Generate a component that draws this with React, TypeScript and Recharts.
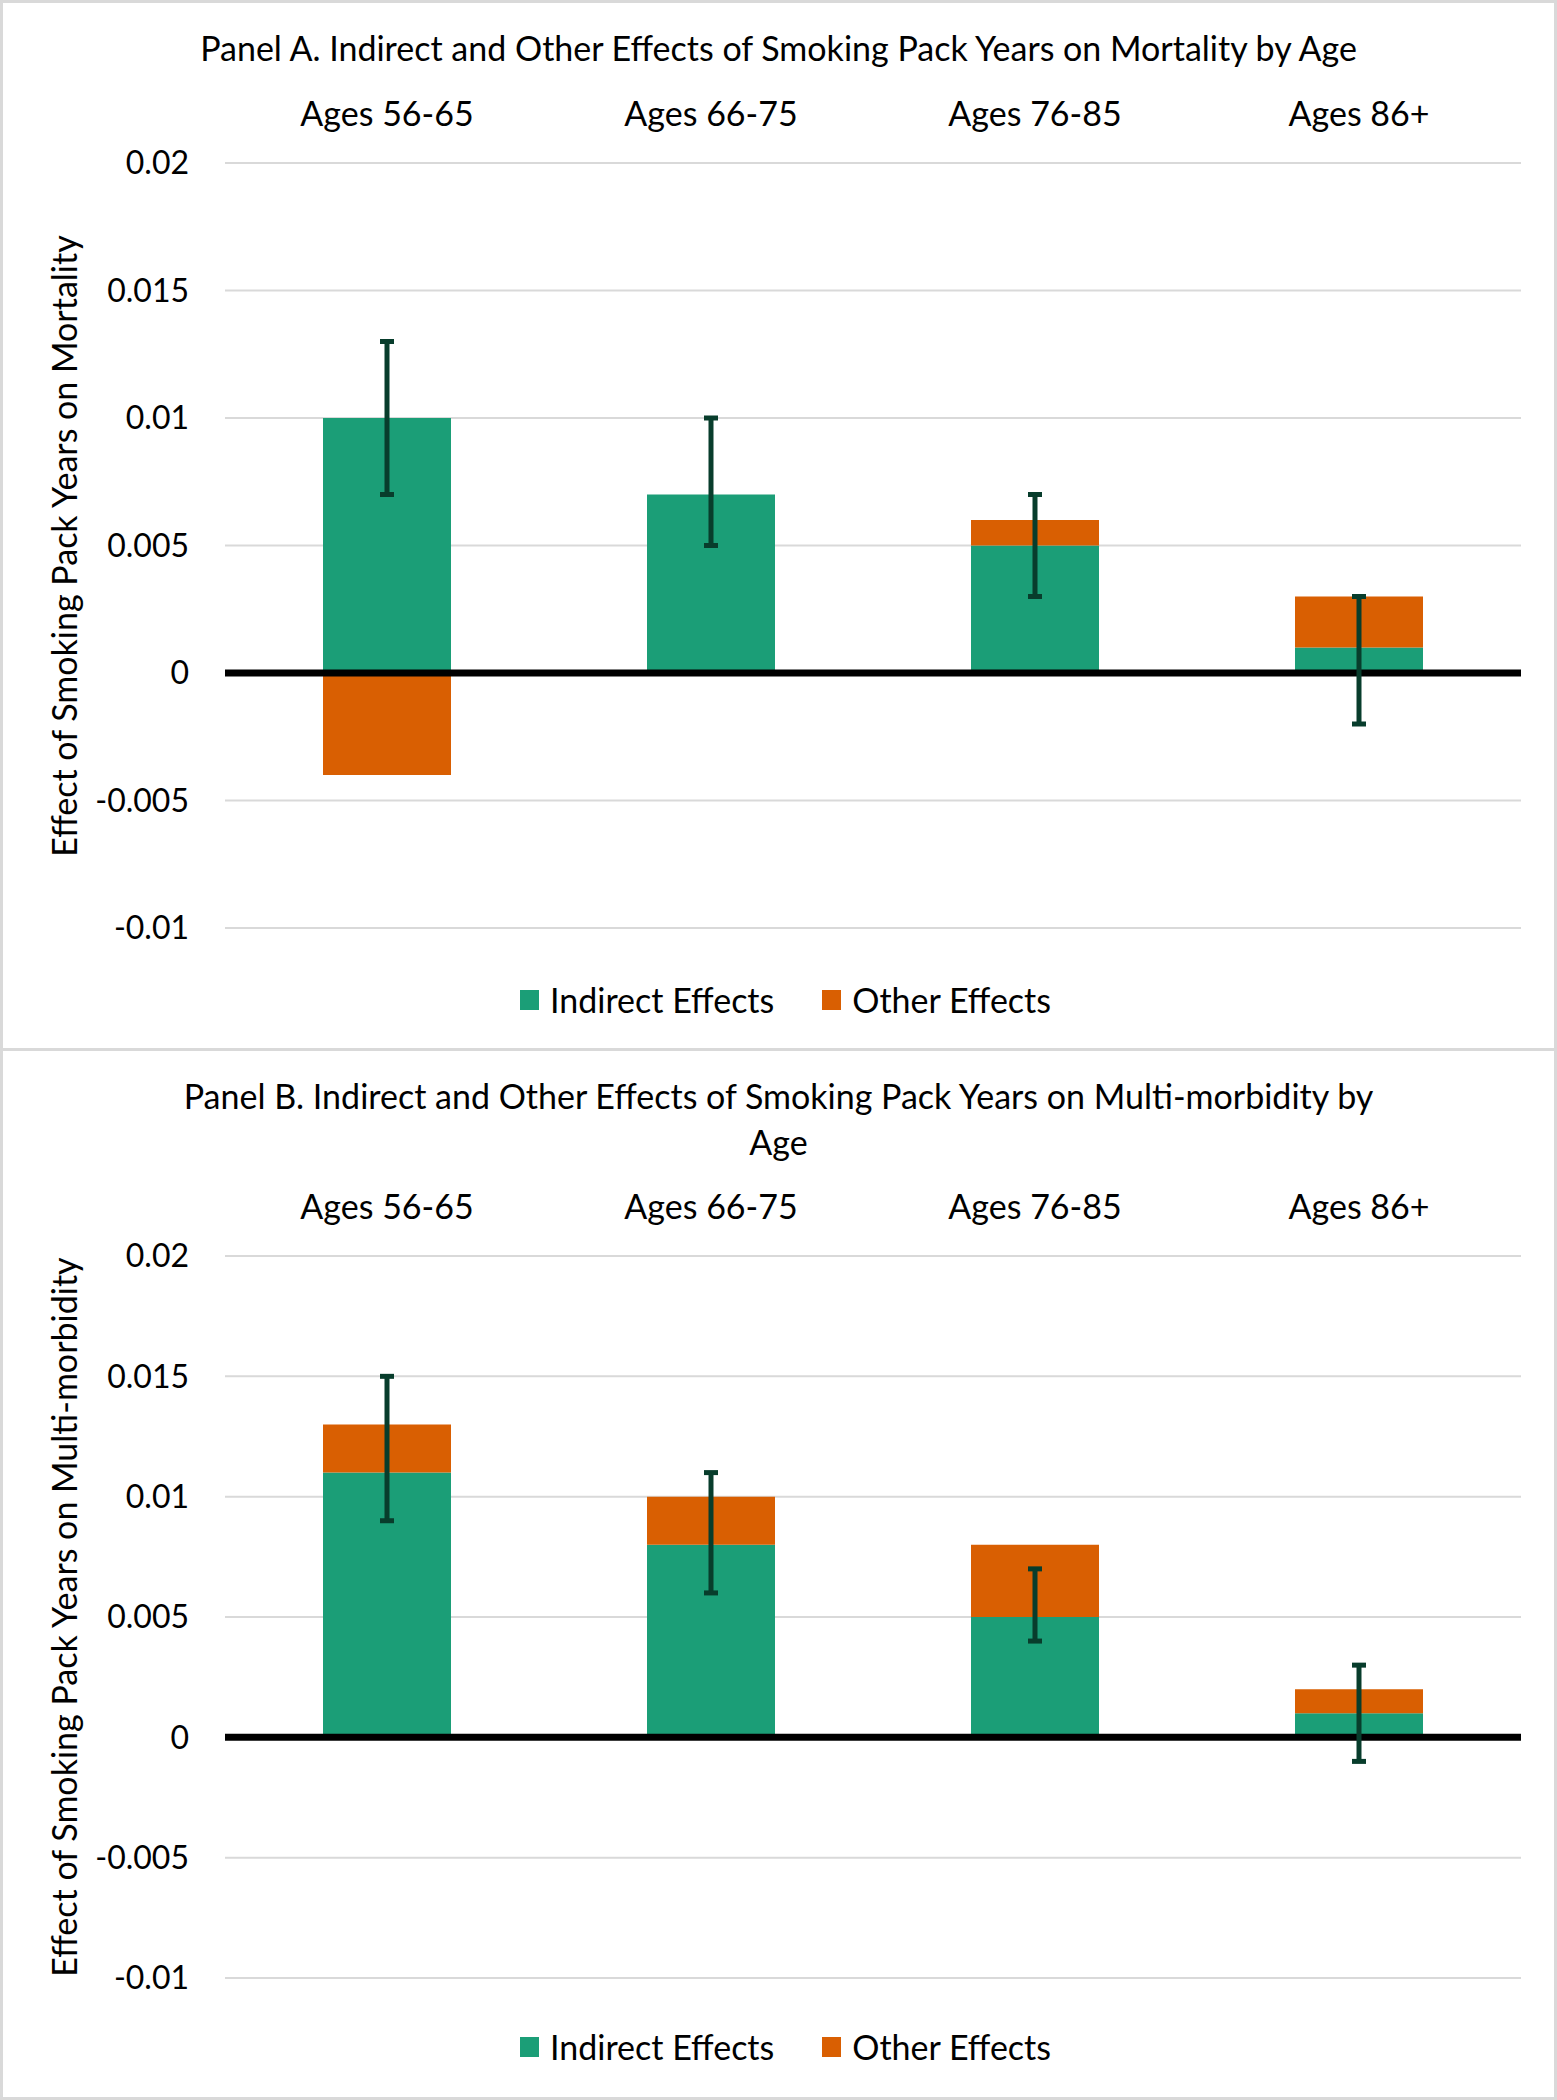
import React from 'react';
import { ComposedChart, Bar, Line, ErrorBar, XAxis, YAxis, CartesianGrid, ReferenceLine, Legend } from 'recharts';

const ageGroups = ['Ages 56-65', 'Ages 66-75', 'Ages 76-85', 'Ages 86+'];

// Panel A - mortality
const mortalityIndirect = [0.01, 0.007, 0.005, 0.001];
const mortalityOther = [-0.004, 0, 0.001, 0.002];
const mortalityLow = [0.007, 0.005, 0.003, -0.002];
const mortalityHigh = [0.013, 0.01, 0.007, 0.003];

// Panel B - multi-morbidity
const morbidityIndirect = [0.011, 0.008, 0.005, 0.001];
const morbidityOther = [0.002, 0.002, 0.003, 0.001];
const morbidityLow = [0.009, 0.006, 0.004, -0.001];
const morbidityHigh = [0.015, 0.011, 0.007, 0.003];

const yTicks = [-0.01, -0.005, 0, 0.005, 0.01, 0.015, 0.02];

const FONT = 'Lato, "Open Sans", sans-serif';
const TEXT_SIZE = 34;
const TICK_SIZE = 32;
const WIDTH = 1557;

const buildRows = (indirect: number[], other: number[], low: number[], high: number[]) =>
  ageGroups.map((age, i) => ({
    age,
    indirect: indirect[i],
    other: other[i],
    low: low[i],
    range: [0, high[i] - low[i]],
  }));

const renderLegend = (props: any) => {
  const items = (props.payload || []).filter((p: any) => p.type !== 'none');
  return (
    <div style={{ display: 'flex', justifyContent: 'center', gap: 48, paddingLeft: 14, fontFamily: FONT, fontSize: TEXT_SIZE, lineHeight: '30px', color: '#000' }}>
      {items.map((entry: any) => (
        <div key={entry.value} style={{ display: 'flex', alignItems: 'center' }}>
          <span style={{ display: 'inline-block', width: 19, height: 20, background: entry.color, marginRight: 11 }} />
          <span>{entry.value}</span>
        </div>
      ))}
    </div>
  );
};

interface PanelProps {
  top: number;
  height: number;
  titleLines: string[];
  yLabel: string;
  rows: any[];
  plotTop: number;
  plotBottom: number;
  legendTop: number;
}

const Panel: React.FC<PanelProps> = ({ top, height, titleLines, yLabel, rows, plotTop, plotBottom, legendTop }) => {
  const axisHeight = 60;
  return (
    <div style={{ position: 'absolute', left: 0, top, width: WIDTH, height, fontFamily: FONT, color: '#000' }}>
      <div style={{ position: 'absolute', left: 0, top: 0, width: WIDTH, height, boxSizing: 'border-box', border: '3px solid #d9d9d9' }} />
      <div style={{ position: 'absolute', left: 0, top: 25, width: WIDTH, textAlign: 'center', fontSize: TEXT_SIZE, lineHeight: '46px' }}>
        {titleLines.map((line) => (
          <div key={line}>{line}</div>
        ))}
      </div>
      <div
        style={{
          position: 'absolute',
          left: 63,
          top: (plotTop + plotBottom) / 2,
          transform: 'translate(-50%, -50%) rotate(-90deg)',
          whiteSpace: 'nowrap',
          fontSize: TEXT_SIZE,
        }}
      >
        {yLabel}
      </div>
      <div style={{ position: 'absolute', left: 0, top: 0 }}>
        <ComposedChart
          width={WIDTH}
          height={height}
          data={rows}
          stackOffset="sign"
          margin={{ top: plotTop - axisHeight, right: 36, bottom: height - plotBottom, left: 40 }}
        >
          <CartesianGrid vertical={false} stroke="#d9d9d9" strokeWidth={2} />
          <XAxis
            dataKey="age"
            orientation="top"
            axisLine={false}
            tickLine={false}
            tickSize={0}
            tickMargin={37}
            height={axisHeight}
            interval={0}
            tick={{ fill: '#000', fontSize: TEXT_SIZE, fontFamily: FONT }}
          />
          <YAxis
            type="number"
            domain={[-0.01, 0.02]}
            ticks={yTicks}
            allowDataOverflow
            width={185}
            axisLine={false}
            tickLine={false}
            tickSize={0}
            tickMargin={36}
            tickFormatter={(v: number) => String(v)}
            tick={{ fill: '#000', fontSize: TICK_SIZE, fontFamily: FONT }}
          />
          <Bar dataKey="indirect" name="Indirect Effects" stackId="a" fill="#1b9e77" barSize={128} isAnimationActive={false} />
          <Bar dataKey="other" name="Other Effects" stackId="a" fill="#d95f02" barSize={128} isAnimationActive={false} />
          <ReferenceLine y={0} stroke="#000" strokeWidth={7} />
          <Line
            dataKey="low"
            stroke="none"
            dot={false}
            activeDot={false}
            legendType="none"
            isAnimationActive={false}
          >
            <ErrorBar dataKey="range" direction="y" width={7} stroke="#083d2c" strokeWidth={5} />
          </Line>
          <Legend
            layout="horizontal"
            verticalAlign="middle"
            align="center"
            wrapperStyle={{ top: legendTop, left: 0, width: WIDTH }}
            content={renderLegend}
          />
        </ComposedChart>
      </div>
    </div>
  );
};

export default function App() {
  const mortalityRows = buildRows(mortalityIndirect, mortalityOther, mortalityLow, mortalityHigh);
  const morbidityRows = buildRows(morbidityIndirect, morbidityOther, morbidityLow, morbidityHigh);
  return (
    <div style={{ position: 'absolute', left: 0, top: 0, width: WIDTH, height: 2100, background: '#fff' }}>
      <Panel
        top={0}
        height={1051}
        titleLines={['Panel A. Indirect and Other Effects of Smoking Pack Years on Mortality by Age']}
        yLabel="Effect of Smoking Pack Years on Mortality"
        rows={mortalityRows}
        plotTop={163}
        plotBottom={928}
        legendTop={985}
      />
      <Panel
        top={1048}
        height={1052}
        titleLines={['Panel B. Indirect and Other Effects of Smoking Pack Years on Multi-morbidity by', 'Age']}
        yLabel="Effect of Smoking Pack Years on Multi-morbidity"
        rows={morbidityRows}
        plotTop={208}
        plotBottom={930}
        legendTop={984}
      />
    </div>
  );
}
